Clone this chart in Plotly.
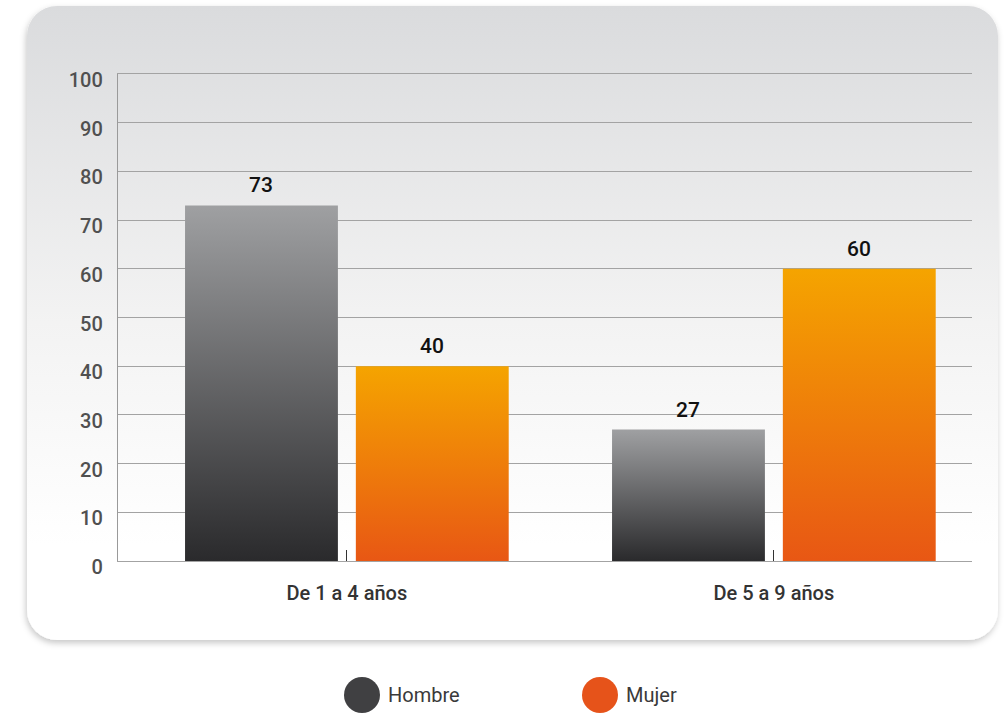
import base64
import plotly.graph_objects as go

# datos
categorias = ["De 1 a 4 años", "De 5 a 9 años"]
hombre = [73, 27]
mujer = [40, 60]
y_ticks = [0, 10, 20, 30, 40, 50, 60, 70, 80, 90, 100]

# estilo de series: (nombre, valores, desplazamiento, color abajo, color arriba, color leyenda)
series = [
    ("Hombre", hombre, -0.2, "#2a2a2c", "#9fa0a2", "#404042"),
    ("Mujer", mujer, 0.2, "#e85714", "#f5a400", "#e6531a"),
]
bar_w = 0.358

W, H = 1006, 714
L, R, T, B = 118, 34, 74, 153
pw, ph = W - L - R, H - T - B

fig = go.Figure()

# barras con degradado (rectangulos desde 0 hasta el valor)
for name, vals, off, c0, c1, _ in series:
    for i, v in enumerate(vals):
        x0, x1 = i + off - bar_w / 2, i + off + bar_w / 2
        fig.add_trace(go.Scatter(
            x=[x0, x1, x1, x0, x0],
            y=[0, 0, v, v, 0],
            mode="lines",
            fill="toself",
            line=dict(width=0),
            fillgradient=dict(type="vertical", colorscale=[[0, c0], [1, c1]]),
            name=name,
            showlegend=False,
            hovertemplate=f"{name}: {v}<extra></extra>",
        ))
        # etiqueta de valor
        fig.add_annotation(
            x=i + off, y=v, text=str(v), showarrow=False,
            yanchor="bottom", yshift=6,
            font=dict(family="Roboto", size=21, color="#111111", weight=500),
        )

# fondo de tarjeta con degradado y sombra
svg = f'''<svg xmlns="http://www.w3.org/2000/svg" width="{W}" height="{H}" viewBox="0 0 {W} {H}" preserveAspectRatio="none">
<defs>
<linearGradient id="g" x1="0" y1="0" x2="0" y2="1">
<stop offset="0" stop-color="#dadbdd"/>
<stop offset="0.5" stop-color="#f3f3f3"/>
<stop offset="0.85" stop-color="#ffffff"/>
</linearGradient>
<filter id="s" x="-5%" y="-5%" width="110%" height="115%">
<feDropShadow dx="-1" dy="3" stdDeviation="3" flood-color="#000000" flood-opacity="0.22"/>
</filter>
</defs>
<rect x="27" y="6" width="971" height="634" rx="30" ry="30" fill="url(#g)" filter="url(#s)"/>
</svg>'''
src = "data:image/svg+xml;base64," + base64.b64encode(svg.encode()).decode()

fig.add_layout_image(
    source=src, xref="paper", yref="paper",
    x=-L / pw, y=(ph + T) / ph, sizex=W / pw, sizey=H / ph,
    xanchor="left", yanchor="top", sizing="stretch", layer="below",
)

# leyenda manual con circulos grandes
for k, (name, _, _, _, _, col) in enumerate(series):
    cx = 362 + k * 238
    cy = 695
    fig.add_shape(
        type="circle", xref="paper", yref="paper",
        x0=(cx - 18 - L) / pw, x1=(cx + 18 - L) / pw,
        y0=(T + ph - cy - 18) / ph, y1=(T + ph - cy + 18) / ph,
        fillcolor=col, line=dict(width=0),
    )
    fig.add_annotation(
        xref="paper", yref="paper",
        x=(cx + 24 - L) / pw, y=(T + ph - cy) / ph,
        text=name, showarrow=False, xanchor="left", yanchor="middle",
        font=dict(family="Roboto", size=20, color="#3a3a3a"),
    )

fig.update_layout(
    width=W, height=H,
    margin=dict(l=L, r=R, t=T, b=B),
    paper_bgcolor="white",
    plot_bgcolor="rgba(0,0,0,0)",
    showlegend=False,
    xaxis=dict(
        range=[-0.536, 1.464],
        tickvals=list(range(len(categorias))),
        ticktext=categorias,
        ticks="inside", ticklen=11, tickwidth=1, tickcolor="#333333",
        showgrid=False, zeroline=False,
        showline=True, mirror=True, linecolor="#a3a3a3", linewidth=1.3,
        ticklabelstandoff=14,
        tickfont=dict(family="Roboto", size=20, color="#333333", weight=500),
        fixedrange=True,
    ),
    yaxis=dict(
        range=[0, 100],
        tickvals=y_ticks,
        showgrid=True, gridcolor="#a3a3a3", gridwidth=1.3,
        zeroline=True, zerolinecolor="#a3a3a3", zerolinewidth=1.5,
        showline=True, linecolor="#9a9a9a", linewidth=1.3,
        ticks="", ticklabelstandoff=10, ticklabelshift=6,
        tickfont=dict(family="Roboto", size=20, color="#505050", weight=500),
        fixedrange=True,
    ),
)

fig.write_html("out.html", config={"displayModeBar": False},
               post_script="document.body.style.margin='0';")
